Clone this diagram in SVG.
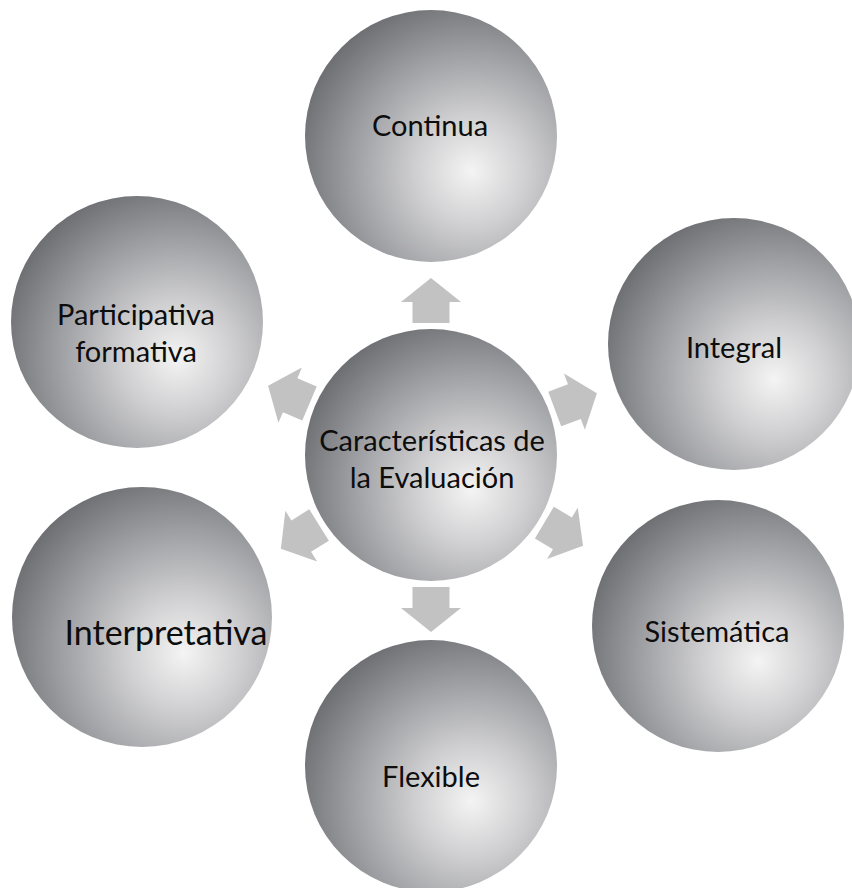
<svg xmlns="http://www.w3.org/2000/svg" width="852" height="888" viewBox="0 0 852 888">
<defs>
<radialGradient id="ball" cx="0.66" cy="0.64" fx="0.66" fy="0.64" r="0.74">
<stop offset="0" stop-color="#F4F4F4"/>
<stop offset="0.3" stop-color="#CFCFD1"/>
<stop offset="0.65" stop-color="#9C9DA1"/>
<stop offset="1" stop-color="#68696D"/>
</radialGradient>
<polygon id="arr" points="132,-18.5 153,-18.5 153,-30 177,0 153,30 153,18.5 132,18.5"/>
</defs>
<style>
.c{fill:url(#ball)}
.t{font-family:Lato,"Open Sans","Liberation Sans",sans-serif;font-size:29px;fill:#0d0d0d;text-anchor:middle}
.a{fill:#C2C2C3}
</style>
<rect width="852" height="888" fill="#fff"/>
<g id="connectors">
<use href="#arr" class="a" transform="translate(431,455) rotate(-90)"/>
<use href="#arr" class="a" transform="translate(431,455) rotate(-20.4)"/>
<use href="#arr" class="a" transform="translate(431,455) rotate(30.8)"/>
<use href="#arr" class="a" transform="translate(431,455) rotate(90)"/>
<use href="#arr" class="a" transform="translate(431,455) rotate(148)"/>
<use href="#arr" class="a" transform="translate(431,455) rotate(-157)"/>
</g>
<g id="center"><circle class="c" cx="431" cy="455" r="126"/><text class="t" x="432" y="451">Características de</text><text class="t" x="432" y="488">la Evaluación</text></g>
<g id="continua"><circle class="c" cx="431" cy="136" r="126"/><text class="t" x="430" y="136">Continua</text></g>
<g id="integral"><circle class="c" cx="734" cy="344" r="126"/><text class="t" x="734" y="358">Integral</text></g>
<g id="sistematica"><circle class="c" cx="718" cy="626" r="126"/><text class="t" x="717" y="642">Sistemática</text></g>
<g id="flexible"><circle class="c" cx="431" cy="766" r="126"/><text class="t" x="431" y="787">Flexible</text></g>
<g id="interpretativa"><circle class="c" cx="142" cy="617" r="130"/><text class="t" x="166" y="645" style="font-size:34px">Interpretativa</text></g>
<g id="participativa"><circle class="c" cx="137" cy="322" r="126"/><text class="t" x="136" y="325">Participativa</text><text class="t" x="136" y="362">formativa</text></g>
</svg>
